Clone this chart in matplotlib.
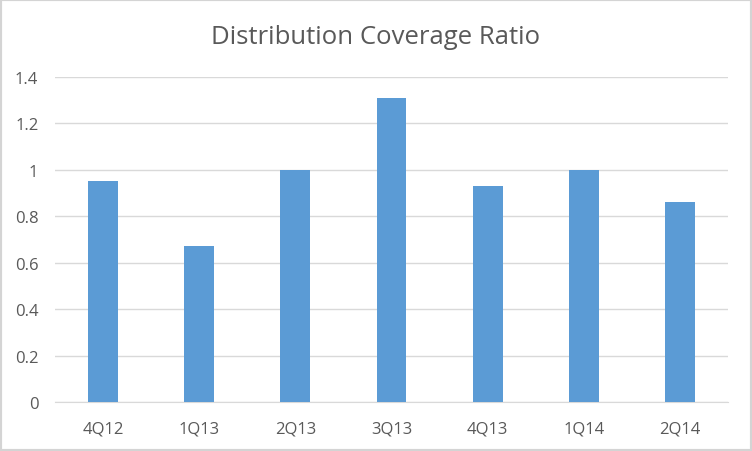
import numpy as np
import matplotlib
matplotlib.use("Agg")
import matplotlib.pyplot as plt
from matplotlib.patches import Rectangle

quarters = ["4Q12", "1Q13", "2Q13", "3Q13", "4Q13", "1Q14", "2Q14"]
coverage = [0.95, 0.67, 1.0, 1.31, 0.93, 1.0, 0.86]
yticks = [0, 0.2, 0.4, 0.6, 0.8, 1, 1.2, 1.4]
yticklabels = ["0", "0.2", "0.4", "0.6", "0.8", "1", "1.2", "1.4"]

plt.rcParams["font.family"] = ["Open Sans", "DejaVu Sans"]
textColor = "#595959"
gridColor = "#d9d9d9"

fig = plt.figure(figsize=(7.52, 4.52), dpi=100)
fig.patches.append(Rectangle((0, 0), 1, 1, transform=fig.transFigure,
                             fill=False, edgecolor="#d4d4d4", linewidth=3))
ax = fig.add_axes([55 / 752, 1 - 403 / 452, 673 / 752, 325 / 452])

x = np.arange(len(quarters))
ax.bar(x, coverage, width=0.31, color="#5b9bd5", zorder=3)

ax.set_xlim(-0.5, len(quarters) - 0.5)
ax.set_ylim(0, 1.4)
ax.set_yticks(yticks)
ax.set_yticklabels(yticklabels)
ax.set_xticks(x)
ax.set_xticklabels(quarters)
ax.grid(axis="y", color=gridColor, linewidth=1, zorder=0)
ax.tick_params(axis="both", length=0, colors=textColor, labelsize=12)
ax.tick_params(axis="y", pad=12)
ax.tick_params(axis="x", pad=13)
for side in ["left", "right", "top"]:
    ax.spines[side].set_visible(False)
ax.spines["bottom"].set_color(gridColor)

fig.text(0.5, 1 - 38 / 452, "Distribution Coverage Ratio", ha="center",
         va="center", fontsize=18.5, color=textColor)

fig.savefig("out.png", dpi=100)
